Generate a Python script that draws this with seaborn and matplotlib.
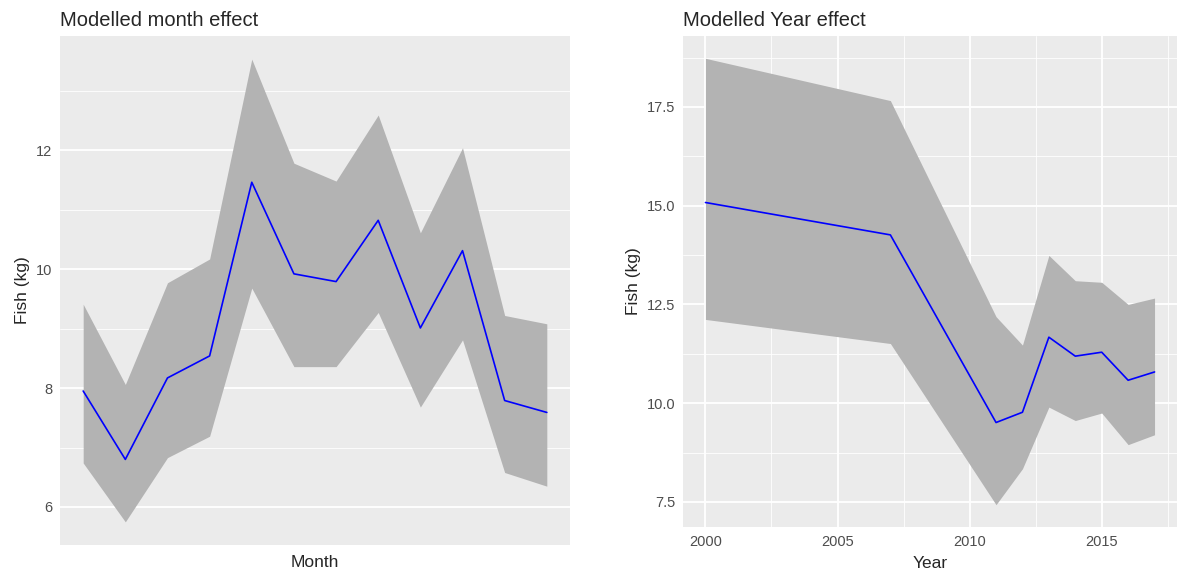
import numpy as np
import pandas as pd
import seaborn as sns
import matplotlib.pyplot as plt
from matplotlib.ticker import AutoMinorLocator, MultipleLocator

# month effect
months = list(range(1, 13))
month_fit = [7.95, 6.80, 8.17, 8.54, 11.46, 9.92, 9.79, 10.82, 9.01, 10.31, 7.79, 7.59]
month_lo = [6.74, 5.75, 6.83, 7.19, 9.68, 8.36, 8.36, 9.27, 7.68, 8.81, 6.58, 6.35]
month_hi = [9.41, 8.06, 9.77, 10.17, 13.53, 11.78, 11.48, 12.59, 10.61, 12.04, 9.22, 9.08]

# year effect
years = [2000, 2007, 2011, 2012, 2013, 2014, 2015, 2016, 2017]
year_fit = [15.08, 14.26, 9.51, 9.77, 11.67, 11.19, 11.29, 10.58, 10.79]
year_lo = [12.12, 11.51, 7.43, 8.34, 9.90, 9.56, 9.75, 8.95, 9.20]
year_hi = [18.73, 17.66, 12.19, 11.47, 13.74, 13.10, 13.06, 12.50, 12.66]

sns.set_style("darkgrid", {"axes.facecolor": "#EBEBEB", "grid.color": "white"})
plt.rcParams['font.family'] = ['Liberation Sans', 'DejaVu Sans']

W, H = 1179, 573
fig = plt.figure(figsize=(W / 100, H / 100), dpi=100)


def px_axes(x0, y0, x1, y1):
    return fig.add_axes([x0 / W, 1 - y1 / H, (x1 - x0) / W, (y1 - y0) / H])


def expand(lo, hi, f=0.05):
    r = hi - lo
    return lo - f * r, hi + f * r


def style(ax):
    for s in ax.spines.values():
        s.set_visible(False)
    ax.grid(True, which='major', color='white', linewidth=1.3)
    ax.grid(True, which='minor', color='white', linewidth=0.6)
    ax.tick_params(which='major', labelsize=10.5, labelcolor='#4D4D4D',
                   color='#333333', length=3.5, width=1, pad=2)
    ax.tick_params(which='minor', length=0)
    ax.set_axisbelow(True)


def draw(ax, x, fit, lo, hi, xname):
    df = pd.DataFrame({xname: x, 'fit': fit, 'lo': lo, 'hi': hi})
    ax.fill_between(df[xname], df['lo'], df['hi'], color='#B3B3B3', linewidth=0)
    sns.lineplot(data=df, x=xname, y='fit', ax=ax, color='blue', linewidth=1.2)
    ax.set_xlim(*expand(min(x), max(x)))
    ax.set_ylim(*expand(min(lo), max(hi)))
    ax.set_ylabel('Fish (kg)', fontsize=12.5, labelpad=4)
    ax.set_xlabel(xname, fontsize=12.5)


# left panel
ax1 = px_axes(60, 36, 570, 545)
draw(ax1, months, month_fit, month_lo, month_hi, 'Month')
ax1.yaxis.set_major_locator(MultipleLocator(2))
ax1.yaxis.set_minor_locator(AutoMinorLocator(2))
ax1.set_xticks([])
style(ax1)
ax1.xaxis.labelpad = 7
ax1.set_title('Modelled month effect', loc='left', fontsize=14.5, pad=7)

# right panel
ax2 = px_axes(683, 36, 1177, 527)
draw(ax2, years, year_fit, year_lo, year_hi, 'Year')
ax2.yaxis.set_major_locator(MultipleLocator(2.5))
ax2.yaxis.set_major_formatter(lambda v, p: f'{v:.1f}')
ax2.yaxis.set_minor_locator(AutoMinorLocator(2))
ax2.xaxis.set_major_locator(MultipleLocator(5))
ax2.xaxis.set_minor_locator(AutoMinorLocator(2))
style(ax2)
ax2.xaxis.labelpad = 5
ax2.set_title('Modelled Year effect', loc='left', fontsize=14.5, pad=7)

fig.savefig('out.png', dpi=100)
